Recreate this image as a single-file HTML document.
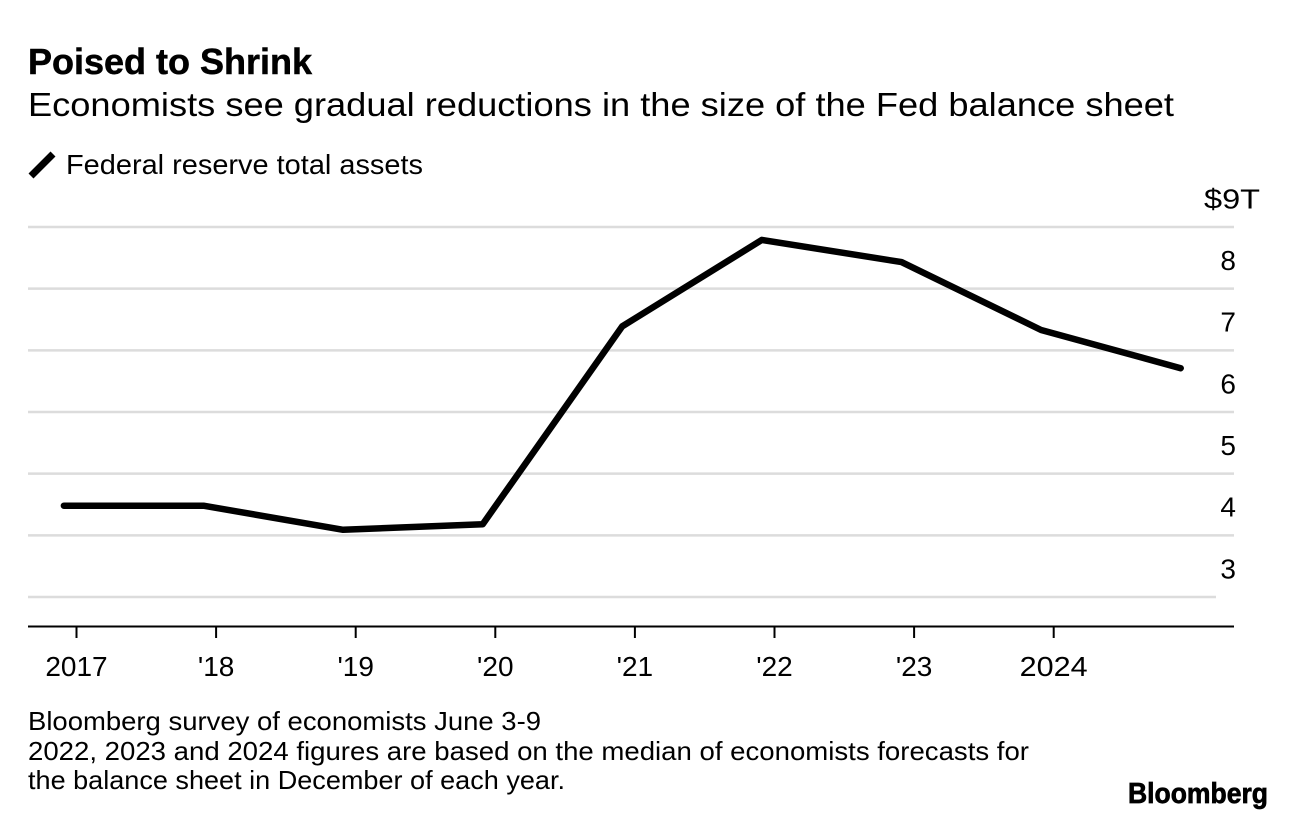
<!DOCTYPE html>
<html lang="en">
<head>
<meta charset="utf-8">
<title>Poised to Shrink</title>
<style>
html,body{margin:0;padding:0;background:#fff;width:1296px;height:820px;overflow:hidden}
svg{display:block}
text{font-family:"Liberation Sans",sans-serif;fill:#000}
</style>
</head>
<body>
<svg id="chart" width="1296" height="820" viewBox="0 0 1296 820" xmlns="http://www.w3.org/2000/svg">
  <rect width="1296" height="820" fill="#fff"/>
  <text x="28" y="74" font-size="36" font-weight="700" stroke="#000" stroke-width="0.5" textLength="284" lengthAdjust="spacingAndGlyphs">Poised to Shrink</text>
  <text x="28" y="116" font-size="33" textLength="1146" lengthAdjust="spacingAndGlyphs">Economists see gradual reductions in the size of the Fed balance sheet</text>
  <line x1="31" y1="176" x2="53" y2="154" stroke="#000" stroke-width="7"/>
  <text x="66" y="174" font-size="28" textLength="357" lengthAdjust="spacingAndGlyphs">Federal reserve total assets</text>
  <g id="grid"></g>
  <g id="yLabels"></g>
  <g id="xAxis"></g>
  <path id="series" fill="none" stroke="#000" stroke-width="6.5" stroke-linejoin="round" stroke-linecap="round"/>
  <text x="28" y="730" font-size="26" textLength="513" lengthAdjust="spacingAndGlyphs">Bloomberg survey of economists June 3-9</text>
  <text x="28" y="760" font-size="26" textLength="1001" lengthAdjust="spacingAndGlyphs">2022, 2023 and 2024 figures are based on the median of economists forecasts for</text>
  <text x="28" y="789" font-size="26" textLength="537" lengthAdjust="spacingAndGlyphs">the balance sheet in December of each year.</text>
  <text x="1128" y="803" font-size="29" font-weight="700" stroke="#000" stroke-width="0.7" textLength="140" lengthAdjust="spacingAndGlyphs">Bloomberg</text>
</svg>
<script>
const pointDates = [2016.91, 2017.91, 2018.91, 2019.91, 2020.91, 2021.91, 2022.91, 2023.91, 2024.91];
const assetValues = [4.48, 4.48, 4.09, 4.18, 7.39, 8.79, 8.43, 7.33, 6.71];
const yTicks = [3, 4, 5, 6, 7, 8, 9];
const yTickLabels = ['3', '4', '5', '6', '7', '8', '$9T'];
const xTicks = [2017, 2018, 2019, 2020, 2021, 2022, 2023, 2024];
const xTickLabels = ['2017', "'18", "'19", "'20", "'21", "'22", "'23", '2024'];

const NS = 'http://www.w3.org/2000/svg';
function xScale(year) { return 76.5 + (year - 2017) * 139.6; }
function yScale(value) { return 597 - (value - 3) * 61.67; }
function make(tag, attrs, parent) {
  const el = document.createElementNS(NS, tag);
  for (const k in attrs) el.setAttribute(k, attrs[k]);
  parent.appendChild(el);
  return el;
}

const grid = document.getElementById('grid');
const yLabels = document.getElementById('yLabels');
yTicks.forEach(function (tick, i) {
  const y = yScale(tick);
  const line = make('line', { x1: 28, x2: tick === 3 ? 1216 : 1234, y1: y, y2: y, stroke: '#dcdcdc', 'stroke-width': 2.5 }, grid);
  
  
  const label = make('text', { x: 1236, y: y - 18.6, 'font-size': 28, 'text-anchor': 'end' }, yLabels);
  
  
  label.textContent = yTickLabels[i];
});
const topLabel = yLabels.lastElementChild;
topLabel.setAttribute('x', 1204);
topLabel.setAttribute('text-anchor', 'start');
topLabel.setAttribute('textLength', 56);
topLabel.setAttribute('lengthAdjust', 'spacingAndGlyphs');

const xAxis = document.getElementById('xAxis');
const axisLine = make('line', { x1: 28, x2: 1234, y1: 626.5, y2: 626.5, stroke: '#000', 'stroke-width': 2 }, xAxis);


xTicks.forEach(function (tick, i) {
  const x = xScale(tick);
  const mark = make('line', { x1: x, x2: x, y1: 626, y2: 638, stroke: '#000', 'stroke-width': 2 }, xAxis);
  
  
  const label = make('text', { x: x, y: 676, 'font-size': 28, 'text-anchor': 'middle' }, xAxis);
  
  
  label.textContent = xTickLabels[i];
  if (i === xTicks.length - 1) {
    label.setAttribute('textLength', 68);
    label.setAttribute('lengthAdjust', 'spacingAndGlyphs');
  }
});

document.getElementById('series').setAttribute('d', assetValues.map(function (v, i) {
  return (i ? 'L' : 'M') + xScale(pointDates[i]).toFixed(1) + ' ' + yScale(v).toFixed(1);
}).join(' '));
</script>
</body>
</html>
